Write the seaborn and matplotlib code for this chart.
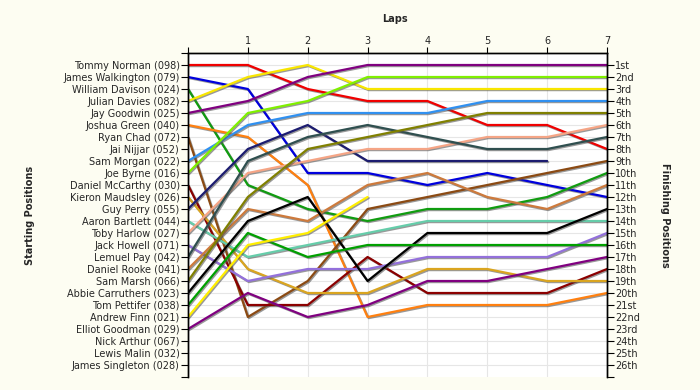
import pandas as pd
import numpy as np
import matplotlib.pyplot as plt
import matplotlib.patheffects as pe
import seaborn as sns

laps = [0, 1, 2, 3, 4, 5, 6, 7]

starting_grid = [
    'Tommy Norman (098)', 'James Walkington (079)', 'William Davison (024)',
    'Julian Davies (082)', 'Jay Goodwin (025)', 'Joshua Green (040)',
    'Ryan Chad (072)', 'Jai Nijjar (052)', 'Sam Morgan (022)', 'Joe Byrne (016)',
    'Daniel McCarthy (030)', 'Kieron Maudsley (026)', 'Guy Perry (055)',
    'Aaron Bartlett (044)', 'Toby Harlow (027)', 'Jack Howell (071)',
    'Lemuel Pay (042)', 'Daniel Rooke (041)', 'Sam Marsh (066)',
    'Abbie Carruthers (023)', 'Tom Pettifer (038)', 'Andrew Finn (021)',
    'Elliot Goodman (029)', 'Nick Arthur (067)', 'Lewis Malin (032)',
    'James Singleton (028)',
]

finish_labels = ['1st', '2nd', '3rd', '4th', '5th', '6th', '7th', '8th', '9th',
                 '10th', '11th', '12th', '13th', '14th', '15th', '16th', '17th',
                 '18th', '19th', '20th', '21st', '22nd', '23rd', '24th', '25th',
                 '26th']

# position after each lap (None = retired)
tommy_norman = [1, 1, 3, 4, 4, 6, 6, 8]
james_walkington = [2, 3, 10, 10, 11, 10, 11, 12]
william_davison = [3, 11, 13, 14, 13, 13, 12, 10]
julian_davies = [4, 2, 1, 3, 3, 3, 3, 3]
jay_goodwin = [5, 4, 2, 1, 1, 1, 1, 1]
joshua_green = [6, 7, 11, 22, 21, 21, 21, 20]
ryan_chad = [7, 22, 19, 13, 12, 11, 10, 9]
sam_morgan = [9, 6, 5, 5, 5, 4, 4, 4]
joe_byrne = [10, 5, 4, 2, 2, 2, 2, 2]
daniel_mccarthy = [11, 21, 21, 17, 20, 20, 20, 18]
kieron_maudsley = [12, 18, 20, 20, 18, 18, 19, 19]
guy_perry = [13, 8, 6, 9, 9, 9, 9, None]
aaron_bartlett = [14, 17, 16, 15, 14, 14, 14, 14]
toby_harlow = [15, 10, 9, 8, 8, 7, 7, 6]
jack_howell = [16, 19, 18, 18, 17, 17, 17, 15]
lemuel_pay = [17, 9, 7, 6, 7, 8, 8, 7]
daniel_rooke = [18, 13, 14, 11, 10, 12, 13, 11]
sam_marsh = [19, 12, 8, 7, 6, 5, 5, 5]
abbie_carruthers = [20, 14, 12, 19, 15, 15, 15, 13]
tom_pettifer = [21, 15, 17, 16, 16, 16, 16, 16]
andrew_finn = [22, 16, 15, 12, None, None, None, None]
elliot_goodman = [23, 20, 22, 21, 19, 19, 18, 17]

drivers = [
    ('Tommy Norman (098)', tommy_norman, '#f00000'),
    ('James Walkington (079)', james_walkington, '#0000dd'),
    ('William Davison (024)', william_davison, '#109c10'),
    ('Julian Davies (082)', julian_davies, '#f8e600'),
    ('Jay Goodwin (025)', jay_goodwin, '#800080'),
    ('Joshua Green (040)', joshua_green, '#ff8010'),
    ('Ryan Chad (072)', ryan_chad, '#8b4a13'),
    ('Sam Morgan (022)', sam_morgan, '#3090f0'),
    ('Joe Byrne (016)', joe_byrne, '#80f000'),
    ('Daniel McCarthy (030)', daniel_mccarthy, '#8b0000'),
    ('Kieron Maudsley (026)', kieron_maudsley, '#daa520'),
    ('Guy Perry (055)', guy_perry, '#1c1c70'),
    ('Aaron Bartlett (044)', aaron_bartlett, '#66cdaa'),
    ('Toby Harlow (027)', toby_harlow, '#f5a586'),
    ('Jack Howell (071)', jack_howell, '#9370db'),
    ('Lemuel Pay (042)', lemuel_pay, '#2f4f4f'),
    ('Daniel Rooke (041)', daniel_rooke, '#cd7a3c'),
    ('Sam Marsh (066)', sam_marsh, '#808000'),
    ('Abbie Carruthers (023)', abbie_carruthers, '#000000'),
    ('Tom Pettifer (038)', tom_pettifer, '#00a000'),
    ('Andrew Finn (021)', andrew_finn, '#ffee00'),
    ('Elliot Goodman (029)', elliot_goodman, '#800080'),
]

rows = []
for name, pos, col in drivers:
    for lap, p in zip(laps, pos):
        rows.append({'driver': name, 'lap': lap, 'pos': np.nan if p is None else p})
df = pd.DataFrame(rows)
palette = {name: col for name, pos, col in drivers}

sns.set_style('white')
plt.rcParams['font.family'] = ['DejaVu Sans']

fig = plt.figure(figsize=(7, 3.9), dpi=100, facecolor='#fdfdf2')
ax = fig.add_axes([188 / 700, 13 / 390, 419 / 700, 324 / 390])
ax.set_facecolor('white')

sns.lineplot(data=df, x='lap', y='pos', hue='driver', palette=palette,
             legend=False, linewidth=1.6, ax=ax, estimator=None, sort=False)
for line in ax.lines:
    line.set_path_effects([pe.SimpleLineShadow(offset=(0.8, -0.8), shadow_color='#555555', alpha=0.6),
                           pe.Normal()])

ax.set_xlim(0, 7)
ax.set_ylim(27, 0)

# grid
for x in range(1, 7):
    ax.axvline(x, color='#e6e6e6', lw=0.8, zorder=0)
for y in range(1, 27):
    ax.axhline(y, color='#e6e6e6', lw=0.8, zorder=0)

ax.xaxis.tick_top()
ax.set_xticks(laps)
ax.set_xticklabels([''] + [str(l) for l in laps[1:]], fontsize=7)
ax.tick_params(axis='x', length=4, width=0.8, pad=1, color='black')
ax.set_xlabel('')
ax.set_ylabel('')

ax.set_yticks(range(1, 27))
ax.set_yticklabels(starting_grid, fontsize=7)
ax.set_yticks([0, 27], minor=True)
ax.tick_params(axis='y', which='both', length=5, width=0.8, pad=1, left=True, color='black')

ax2 = ax.twinx()
ax2.set_ylim(27, 0)
ax2.set_yticks(range(1, 27))
ax2.set_yticklabels(finish_labels, fontsize=7)
ax2.set_yticks([27], minor=True)
ax2.tick_params(axis='y', which='both', length=5, width=0.8, pad=1, right=True, color='black')

for a in (ax, ax2):
    a.spines['bottom'].set_visible(False)
    for s in ('top', 'left', 'right'):
        a.spines[s].set_color('black')
        a.spines[s].set_linewidth(1.0)

fig.text(395 / 700, 1 - 19 / 390, 'Laps', ha='center', va='center',
         fontsize=7, fontweight='bold')
fig.text(30 / 700, 1 - 215 / 390, 'Starting Positions', ha='center', va='center',
         rotation=90, fontsize=7, fontweight='bold')
fig.text(665 / 700, 1 - 215 / 390, 'Finishing Positions', ha='center', va='center',
         rotation=270, fontsize=7, fontweight='bold')

fig.savefig('out.png', dpi=100, facecolor=fig.get_facecolor())
